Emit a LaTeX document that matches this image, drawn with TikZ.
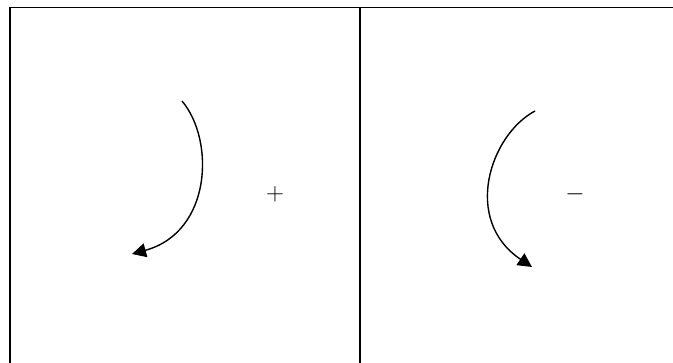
\documentclass[tikz,border=0pt]{standalone}
\usepackage{tikz}
\usetikzlibrary{arrows.meta}

\begin{document}
\begin{tikzpicture}[x=1pt, y=-1pt,
    frame/.style={line width=1.7pt, black},
    turn/.style={line width=1.4pt, -{Triangle[length=14pt, width=14pt]}},
    sign/.style={inner sep=0pt, font=\fontsize{23}{23}\selectfont}]
  \useasboundingbox (0,0) rectangle (673,363);
  \clip (0,0) rectangle (673,363);
  % the two panels, cut off at the right and at the bottom
  \draw[frame] (10,380) -- (10,7.5) -- (690,7.5);
  \draw[frame] (360,7.5) -- (360,380);
  % left panel
  \coordinate (lstart) at (182,101);
  \coordinate (ltip) at (132,254);
  \draw[turn] (lstart) .. controls (215,140) and (212,232) .. (ltip);
  \node[sign] (plus) at (275,194) {$+$};
  % right panel
  \coordinate (rstart) at (535,111);
  \coordinate (rtip) at (532,267);
  \draw[turn] (rstart) .. controls (490,135) and (462,220) .. (rtip);
  \node[sign, font=\fontsize{28}{28}\selectfont] (minus) at (575,194) {$-$};
\end{tikzpicture}
\end{document}
